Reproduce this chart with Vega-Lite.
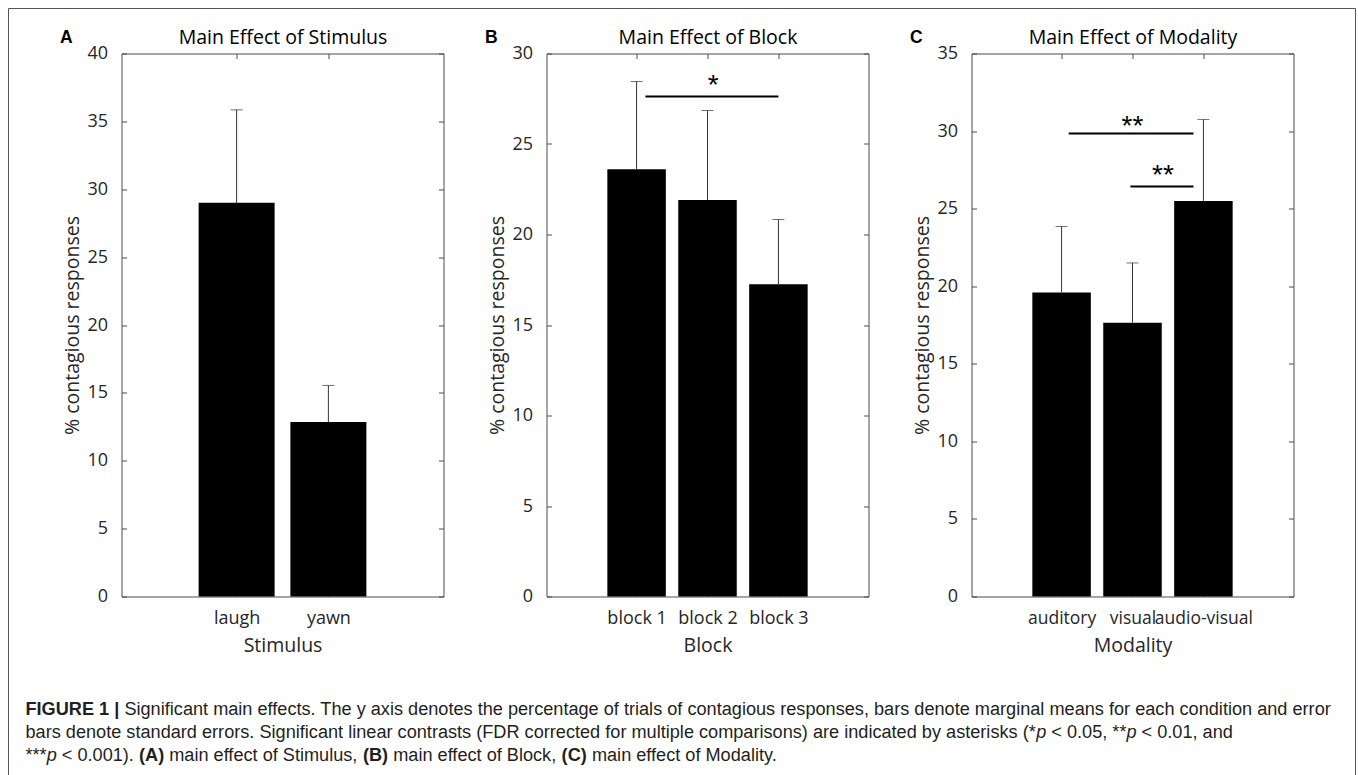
{
  "$schema": "https://vega.github.io/schema/vega-lite/v6.json",
  "background": "white",
  "padding": {"left": 7.5, "top": 7.5, "right": 0, "bottom": 0},
  "datasets": {
    "stimulus": [
      {"idx": 1, "cond": "laugh", "mean": 29.0, "upper": 35.85},
      {"idx": 2, "cond": "yawn", "mean": 12.85, "upper": 15.55}
    ],
    "block": [
      {"idx": 1, "cond": "block 1", "mean": 23.6, "upper": 28.45},
      {"idx": 2, "cond": "block 2", "mean": 21.9, "upper": 26.85},
      {"idx": 3, "cond": "block 3", "mean": 17.25, "upper": 20.83}
    ],
    "modality": [
      {"idx": 1, "cond": "auditory", "mean": 19.6, "upper": 23.85},
      {"idx": 2, "cond": "visual", "mean": 17.65, "upper": 21.5},
      {"idx": 3, "cond": "audio-visual", "mean": 25.5, "upper": 30.75}
    ],
    "sig_block": [
      {"from": 1.125, "to": 3.0, "level": 27.62, "stars": "*", "star_x": 2.08, "star_y": 28.67}
    ],
    "sig_modality": [
      {"from": 1.1, "to": 2.86, "level": 29.84, "stars": "**", "star_x": 2.0, "star_y": 30.81},
      {"from": 1.97, "to": 2.86, "level": 26.42, "stars": "**", "star_x": 2.43, "star_y": 27.59}
    ],
    "caption": [
      {"line": 1, "seg": "l1a", "text": "FIGURE 1 |"},
      {"line": 1, "seg": "l1b", "text": "Significant main effects. The y axis denotes the percentage of trials of contagious responses, bars denote marginal means for each condition and error"},
      {"line": 2, "seg": "l2a", "text": "bars denote standard errors. Significant linear contrasts (FDR corrected for multiple comparisons) are indicated by asterisks (*"},
      {"line": 2, "seg": "l2p1", "text": "p"},
      {"line": 2, "seg": "l2b", "text": "< 0.05, **"},
      {"line": 2, "seg": "l2p2", "text": "p"},
      {"line": 2, "seg": "l2c", "text": "< 0.01, and"},
      {"line": 3, "seg": "l3a", "text": "***"},
      {"line": 3, "seg": "l3p", "text": "p"},
      {"line": 3, "seg": "l3b", "text": "< 0.001)."},
      {"line": 3, "seg": "l3A", "text": "(A)"},
      {"line": 3, "seg": "l3c", "text": "main effect of Stimulus,"},
      {"line": 3, "seg": "l3B", "text": "(B)"},
      {"line": 3, "seg": "l3d", "text": "main effect of Block,"},
      {"line": 3, "seg": "l3C", "text": "(C)"},
      {"line": 3, "seg": "l3e", "text": "main effect of Modality."}
    ],
    "frame": [{"edge": "figure border"}]
  },
  "bounds": "flush",
  "spacing": 103,
  "hconcat": [
    {
      "width": 10,
      "height": 543,
      "resolve": {"scale": {"y": "independent"}},
      "layer": [
        {
          "data": {"name": "frame"},
          "encoding": {
            "x": {"datum": 0, "type": "quantitative", "scale": {"domain": [0, 1], "range": [0, 1347], "nice": false, "zero": false}, "axis": null},
            "y": {"datum": 0, "type": "quantitative", "scale": {"domain": [0, 1], "range": [740, -45], "nice": false, "zero": false}, "axis": null},
            "y2": {"datum": 1}
          },
          "mark": {"type": "rule", "color": "#555555", "strokeWidth": 1}
        },
        {
          "data": {"name": "frame"},
          "encoding": {
            "x": {"datum": 1, "type": "quantitative", "scale": {"domain": [0, 1], "range": [0, 1347], "nice": false, "zero": false}, "axis": null},
            "y": {"datum": 0, "type": "quantitative", "scale": {"domain": [0, 1], "range": [740, -45], "nice": false, "zero": false}, "axis": null},
            "y2": {"datum": 1}
          },
          "mark": {"type": "rule", "color": "#555555", "strokeWidth": 1}
        },
        {
          "data": {"name": "frame"},
          "encoding": {
            "x": {"datum": 0, "type": "quantitative", "scale": {"domain": [0, 1], "range": [0, 1347], "nice": false, "zero": false}, "axis": null},
            "x2": {"datum": 1},
            "y": {"datum": 1, "type": "quantitative", "scale": {"domain": [0, 1], "range": [740, -45], "nice": false, "zero": false}, "axis": null}
          },
          "mark": {"type": "rule", "color": "#555555", "strokeWidth": 1}
        },
        {
          "data": {"name": "caption"},
          "encoding": {
            "y": {"field": "line", "type": "ordinal", "scale": {"type": "point", "padding": 0, "range": [661, 707]}, "axis": null},
            "text": {"field": "text"}
          },
          "layer": [
            {"transform": [{"filter": "datum.seg == 'l1a'"}], "mark": {"type": "text", "align": "left", "baseline": "alphabetic", "font": "Liberation Sans", "fontSize": 18.15, "fontWeight": "bold", "color": "#231f20", "dx": 12}},
            {"transform": [{"filter": "datum.seg == 'l1b'"}], "mark": {"type": "text", "align": "left", "baseline": "alphabetic", "font": "Liberation Sans", "fontSize": 18.15, "color": "#231f20", "dx": 110.9}},
            {"transform": [{"filter": "datum.seg == 'l2a' || datum.seg == 'l3a'"}], "mark": {"type": "text", "align": "left", "baseline": "alphabetic", "font": "Liberation Sans", "fontSize": 18.15, "color": "#231f20", "dx": 12}},
            {"transform": [{"filter": "datum.seg == 'l2p1'"}], "mark": {"type": "text", "align": "left", "baseline": "alphabetic", "font": "Liberation Sans", "fontSize": 18.15, "fontStyle": "italic", "color": "#231f20", "dx": 1022.7}},
            {"transform": [{"filter": "datum.seg == 'l2b'"}], "mark": {"type": "text", "align": "left", "baseline": "alphabetic", "font": "Liberation Sans", "fontSize": 18.15, "color": "#231f20", "dx": 1037.8}},
            {"transform": [{"filter": "datum.seg == 'l2p2'"}], "mark": {"type": "text", "align": "left", "baseline": "alphabetic", "font": "Liberation Sans", "fontSize": 18.15, "fontStyle": "italic", "color": "#231f20", "dx": 1113.0}},
            {"transform": [{"filter": "datum.seg == 'l2c'"}], "mark": {"type": "text", "align": "left", "baseline": "alphabetic", "font": "Liberation Sans", "fontSize": 18.15, "color": "#231f20", "dx": 1128.1}},
            {"transform": [{"filter": "datum.seg == 'l3p'"}], "mark": {"type": "text", "align": "left", "baseline": "alphabetic", "font": "Liberation Sans", "fontSize": 18.15, "fontStyle": "italic", "color": "#231f20", "dx": 33.2}},
            {"transform": [{"filter": "datum.seg == 'l3b'"}], "mark": {"type": "text", "align": "left", "baseline": "alphabetic", "font": "Liberation Sans", "fontSize": 18.15, "color": "#231f20", "dx": 48.3}},
            {"transform": [{"filter": "datum.seg == 'l3A'"}], "mark": {"type": "text", "align": "left", "baseline": "alphabetic", "font": "Liberation Sans", "fontSize": 18.15, "fontWeight": "bold", "color": "#231f20", "dx": 125.5}},
            {"transform": [{"filter": "datum.seg == 'l3c'"}], "mark": {"type": "text", "align": "left", "baseline": "alphabetic", "font": "Liberation Sans", "fontSize": 18.15, "color": "#231f20", "dx": 155.7}},
            {"transform": [{"filter": "datum.seg == 'l3B'"}], "mark": {"type": "text", "align": "left", "baseline": "alphabetic", "font": "Liberation Sans", "fontSize": 18.15, "fontWeight": "bold", "color": "#231f20", "dx": 349.4}},
            {"transform": [{"filter": "datum.seg == 'l3d'"}], "mark": {"type": "text", "align": "left", "baseline": "alphabetic", "font": "Liberation Sans", "fontSize": 18.15, "color": "#231f20", "dx": 379.7}},
            {"transform": [{"filter": "datum.seg == 'l3C'"}], "mark": {"type": "text", "align": "left", "baseline": "alphabetic", "font": "Liberation Sans", "fontSize": 18.15, "fontWeight": "bold", "color": "#231f20", "dx": 548.1}},
            {"transform": [{"filter": "datum.seg == 'l3e'"}], "mark": {"type": "text", "align": "left", "baseline": "alphabetic", "font": "Liberation Sans", "fontSize": 18.15, "color": "#231f20", "dx": 578.4}}
          ]
        }
      ]
    },
    {
      "width": 322,
      "height": 543,
      "resolve": {"axis": {"x": "independent", "y": "independent"}},
      "layer": [
        {
          "data": {"name": "stimulus"},
          "mark": {"type": "bar", "color": "#000000", "width": 76, "orient": "vertical"},
          "encoding": {
            "x": {"field": "idx", "type": "quantitative", "scale": {"domain": [-0.2, 3.2], "nice": false, "zero": false}, "axis": {"orient": "bottom", "values": [1, 2], "labelExpr": "datum.value == 1 ? 'laugh' : 'yawn'", "title": "Stimulus"}},
            "y": {"field": "mean", "type": "quantitative", "scale": {"domain": [0, 40], "nice": false}, "axis": {"orient": "left", "values": [0, 5, 10, 15, 20, 25, 30, 35, 40], "title": "% contagious responses"}}
          }
        },
        {
          "data": {"name": "stimulus"},
          "mark": {"type": "rule", "color": "#333333", "strokeWidth": 1},
          "encoding": {
            "x": {"field": "idx", "type": "quantitative", "scale": {"domain": [-0.2, 3.2], "nice": false, "zero": false}, "axis": {"orient": "top", "values": [1, 2], "title": "Main Effect of Stimulus"}},
            "y": {"field": "mean", "type": "quantitative", "scale": {"domain": [0, 40], "nice": false}, "axis": {"orient": "right", "values": [0, 5, 10, 15, 20, 25, 30, 35, 40], "title": "A"}},
            "y2": {"field": "upper"}
          }
        },
        {
          "data": {"name": "stimulus"},
          "mark": {"type": "tick", "orient": "horizontal", "size": 12, "thickness": 1, "color": "#333333"},
          "encoding": {
            "x": {"field": "idx", "type": "quantitative", "scale": {"domain": [-0.2, 3.2], "nice": false, "zero": false}, "axis": null},
            "y": {"field": "upper", "type": "quantitative", "scale": {"domain": [0, 40], "nice": false}, "axis": null}
          }
        }
      ]
    },
    {
      "width": 322,
      "height": 543,
      "resolve": {"axis": {"x": "independent", "y": "independent"}},
      "layer": [
        {
          "data": {"name": "block"},
          "mark": {"type": "bar", "color": "#000000", "width": 58.5, "orient": "vertical"},
          "encoding": {
            "x": {"field": "idx", "type": "quantitative", "scale": {"domain": [-0.2, 4.2], "nice": false, "zero": false}, "axis": {"orient": "bottom", "values": [1, 2, 3], "labelExpr": "'block ' + datum.value", "title": "Block"}},
            "y": {"field": "mean", "type": "quantitative", "scale": {"domain": [0, 30], "nice": false}, "axis": {"orient": "left", "values": [0, 5, 10, 15, 20, 25, 30], "title": "% contagious responses"}}
          }
        },
        {
          "data": {"name": "block"},
          "mark": {"type": "rule", "color": "#333333", "strokeWidth": 1},
          "encoding": {
            "x": {"field": "idx", "type": "quantitative", "scale": {"domain": [-0.2, 4.2], "nice": false, "zero": false}, "axis": {"orient": "top", "values": [1, 2, 3], "title": "Main Effect of Block"}},
            "y": {"field": "mean", "type": "quantitative", "scale": {"domain": [0, 30], "nice": false}, "axis": {"orient": "right", "values": [0, 5, 10, 15, 20, 25, 30], "title": "B"}},
            "y2": {"field": "upper"}
          }
        },
        {
          "data": {"name": "block"},
          "mark": {"type": "tick", "orient": "horizontal", "size": 12, "thickness": 1, "color": "#333333"},
          "encoding": {
            "x": {"field": "idx", "type": "quantitative", "scale": {"domain": [-0.2, 4.2], "nice": false, "zero": false}, "axis": null},
            "y": {"field": "upper", "type": "quantitative", "scale": {"domain": [0, 30], "nice": false}, "axis": null}
          }
        },
        {
          "data": {"name": "sig_block"},
          "mark": {"type": "rule", "color": "#000000", "strokeWidth": 2},
          "encoding": {
            "x": {"field": "from", "type": "quantitative", "scale": {"domain": [-0.2, 4.2], "nice": false, "zero": false}, "axis": null},
            "x2": {"field": "to"},
            "y": {"field": "level", "type": "quantitative", "scale": {"domain": [0, 30], "nice": false}, "axis": null}
          }
        },
        {
          "data": {"name": "sig_block"},
          "mark": {"type": "text", "font": "Liberation Sans", "fontSize": 28, "align": "center", "baseline": "alphabetic", "dy": 16, "color": "#000000"},
          "encoding": {
            "x": {"field": "star_x", "type": "quantitative", "scale": {"domain": [-0.2, 4.2], "nice": false, "zero": false}, "axis": null},
            "y": {"field": "star_y", "type": "quantitative", "scale": {"domain": [0, 30], "nice": false}, "axis": null},
            "text": {"field": "stars"}
          }
        }
      ]
    },
    {
      "width": 322,
      "height": 543,
      "resolve": {"axis": {"x": "independent", "y": "independent"}},
      "layer": [
        {
          "data": {"name": "modality"},
          "mark": {"type": "bar", "color": "#000000", "width": 58.5, "orient": "vertical"},
          "encoding": {
            "x": {"field": "idx", "type": "quantitative", "scale": {"domain": [-0.2, 4.2], "nice": false, "zero": false}, "axis": {"orient": "bottom", "values": [1, 2, 3], "labelExpr": "datum.value == 1 ? 'auditory' : datum.value == 2 ? 'visual' : 'audio-visual'", "labelFontSize": 17.5, "title": "Modality"}},
            "y": {"field": "mean", "type": "quantitative", "scale": {"domain": [0, 35], "nice": false}, "axis": {"orient": "left", "values": [0, 5, 10, 15, 20, 25, 30, 35], "title": "% contagious responses"}}
          }
        },
        {
          "data": {"name": "modality"},
          "mark": {"type": "rule", "color": "#333333", "strokeWidth": 1},
          "encoding": {
            "x": {"field": "idx", "type": "quantitative", "scale": {"domain": [-0.2, 4.2], "nice": false, "zero": false}, "axis": {"orient": "top", "values": [1, 2, 3], "title": "Main Effect of Modality"}},
            "y": {"field": "mean", "type": "quantitative", "scale": {"domain": [0, 35], "nice": false}, "axis": {"orient": "right", "values": [0, 5, 10, 15, 20, 25, 30, 35], "title": "C"}},
            "y2": {"field": "upper"}
          }
        },
        {
          "data": {"name": "modality"},
          "mark": {"type": "tick", "orient": "horizontal", "size": 12, "thickness": 1, "color": "#333333"},
          "encoding": {
            "x": {"field": "idx", "type": "quantitative", "scale": {"domain": [-0.2, 4.2], "nice": false, "zero": false}, "axis": null},
            "y": {"field": "upper", "type": "quantitative", "scale": {"domain": [0, 35], "nice": false}, "axis": null}
          }
        },
        {
          "data": {"name": "sig_modality"},
          "mark": {"type": "rule", "color": "#000000", "strokeWidth": 2},
          "encoding": {
            "x": {"field": "from", "type": "quantitative", "scale": {"domain": [-0.2, 4.2], "nice": false, "zero": false}, "axis": null},
            "x2": {"field": "to"},
            "y": {"field": "level", "type": "quantitative", "scale": {"domain": [0, 35], "nice": false}, "axis": null}
          }
        },
        {
          "data": {"name": "sig_modality"},
          "mark": {"type": "text", "font": "Liberation Sans", "fontSize": 28, "align": "center", "baseline": "alphabetic", "dy": 16, "color": "#000000"},
          "encoding": {
            "x": {"field": "star_x", "type": "quantitative", "scale": {"domain": [-0.2, 4.2], "nice": false, "zero": false}, "axis": null},
            "y": {"field": "star_y", "type": "quantitative", "scale": {"domain": [0, 35], "nice": false}, "axis": null},
            "text": {"field": "stars"}
          }
        }
      ]
    }
  ],
  "config": {
    "view": {"stroke": null},
    "axis": {
      "grid": false,
      "domainColor": "#4d4d4d",
      "domainWidth": 1,
      "tickColor": "#4d4d4d",
      "tickWidth": 1,
      "tickSize": -5,
      "labelFont": "Open Sans",
      "labelFontSize": 18,
      "labelColor": "#262626",
      "titleFont": "Open Sans",
      "titleFontSize": 19.5,
      "titleFontWeight": "normal",
      "titleColor": "#262626",
      "labelOverlap": false,
      "labelFlush": false,
      "labelBound": false
    },
    "axisLeft": {"labelPadding": 19, "titlePadding": 4},
    "axisBottom": {"labelPadding": 18, "titlePadding": 9},
    "axisTop": {"labels": false, "titlePadding": 6, "titleColor": "#000000"},
    "axisRight": {"labels": false, "titleAngle": 0, "titleX": -384, "titleY": -11.5, "titleAlign": "left", "titleBaseline": "alphabetic", "titleFont": "Liberation Sans", "titleFontWeight": "bold", "titleFontSize": 17.5, "titleColor": "#000000"}
  }
}
